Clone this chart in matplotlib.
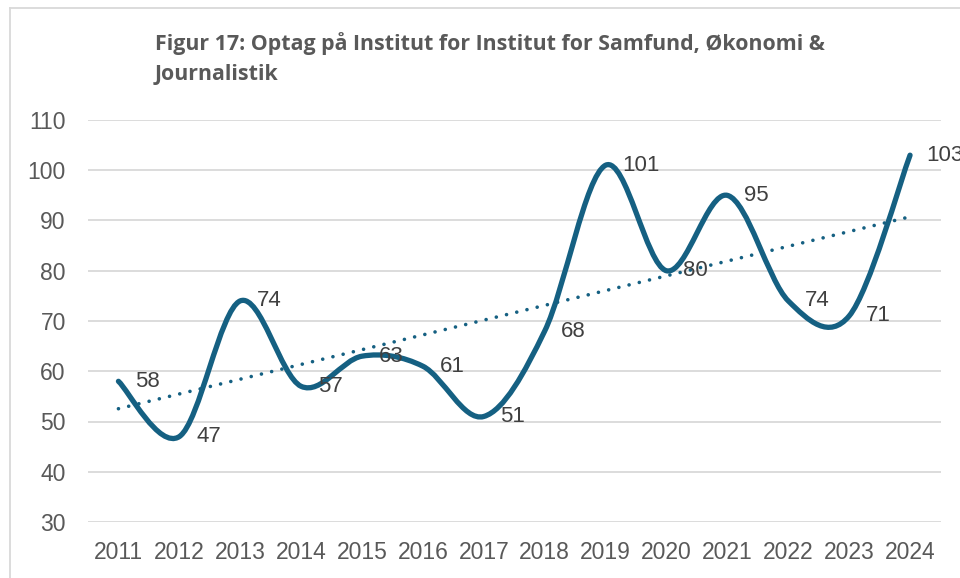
import numpy as np
import matplotlib
matplotlib.use("Agg")
import matplotlib.pyplot as plt
from matplotlib.path import Path
from matplotlib.patches import PathPatch
from matplotlib.lines import Line2D

years = ["2011", "2012", "2013", "2014", "2015", "2016", "2017",
         "2018", "2019", "2020", "2021", "2022", "2023", "2024"]
values = [58, 47, 74, 57, 63, 61, 51, 68, 101, 80, 95, 74, 71, 103]
title_lines = ["Figur 17: Optag på Institut for Institut for Samfund, Økonomi &",
               "Journalistik"]
yticks = [30, 40, 50, 60, 70, 80, 90, 100, 110]

LINE = "#156082"
TXT = "#595959"
GRID = "#d9d9d9"
FONT = "Liberation Sans"

fig = plt.figure(figsize=(9.6, 5.78), dpi=100)
ax = fig.add_axes([88/960, 1 - 522/578, (940.5-88)/960, (522-120)/578])

x = np.arange(len(values), dtype=float)
y = np.array(values, dtype=float)

# Smoothed line (Catmull-Rom as cubic Bezier, Excel-like)
verts = [(x[0], y[0])]
codes = [Path.MOVETO]
n = len(x)
for i in range(n - 1):
    p0 = (x[i-1], y[i-1]) if i > 0 else (x[i], y[i])
    p1 = (x[i], y[i])
    p2 = (x[i+1], y[i+1])
    p3 = (x[i+2], y[i+2]) if i + 2 < n else (x[i+1], y[i+1])
    c1 = (p1[0] + (p2[0]-p0[0])/6, p1[1] + (p2[1]-p0[1])/6)
    c2 = (p2[0] - (p3[0]-p1[0])/6, p2[1] - (p3[1]-p1[1])/6)
    verts += [c1, c2, p2]
    codes += [Path.CURVE4]*3
patch = PathPatch(Path(verts, codes), facecolor="none", edgecolor=LINE,
                  lw=3.8, capstyle="round", joinstyle="round", zorder=3)
ax.add_patch(patch)

# Linear trendline
slope, intercept = np.polyfit(x, y, 1)
ax.plot(x, intercept + slope*x, color=LINE, lw=2.6,
        linestyle=(0, (0.01, 2.9)), dash_capstyle="round", zorder=2)

# Data labels (right of point)
for xi, yi in zip(x, y):
    ax.annotate(f"{int(yi)}", (xi, yi), xytext=(12, 0), textcoords="offset points",
                ha="left", va="center", fontsize=16, color="#404040",
                family=FONT, zorder=4, annotation_clip=False)

ax.set_xlim(-0.5, n - 0.5)
ax.set_ylim(30, 110)
ax.set_yticks(yticks)
ax.set_xticks(x)
ax.set_xticklabels(years)
ax.grid(axis="y", color=GRID, lw=1.3)
ax.set_axisbelow(True)
for s in ax.spines.values():
    s.set_visible(False)
ax.tick_params(length=0, labelsize=16.5, labelcolor=TXT)
ax.tick_params(axis="y", pad=16)
ax.tick_params(axis="x", pad=14)
for lab in ax.get_xticklabels() + ax.get_yticklabels():
    lab.set_family(FONT)

t1 = fig.text(155/960, 1 - 50/578, title_lines[0], ha="left", va="baseline", fontsize=13.6,
              fontweight="bold", color=TXT, family="Open Sans")
# scale title to the reference width (~671 px)
renderer = fig.canvas.get_renderer()
w = t1.get_window_extent(renderer).width
fs = 13.6 * 671.0 / w
t1.set_fontsize(fs)
fig.text(155/960, 1 - 80/578, title_lines[1], ha="left", va="baseline", fontsize=fs,
         fontweight="bold", color=TXT, family="Open Sans")

# chart border (only left & top visible in crop)
fig.add_artist(Line2D([10/960, 10/960], [0, 1 - 8/578], transform=fig.transFigure,
                      color=GRID, lw=1.3))
fig.add_artist(Line2D([10/960, 1], [1 - 8/578, 1 - 8/578], transform=fig.transFigure,
                      color=GRID, lw=1.3))

fig.savefig("out.png", dpi=100)
